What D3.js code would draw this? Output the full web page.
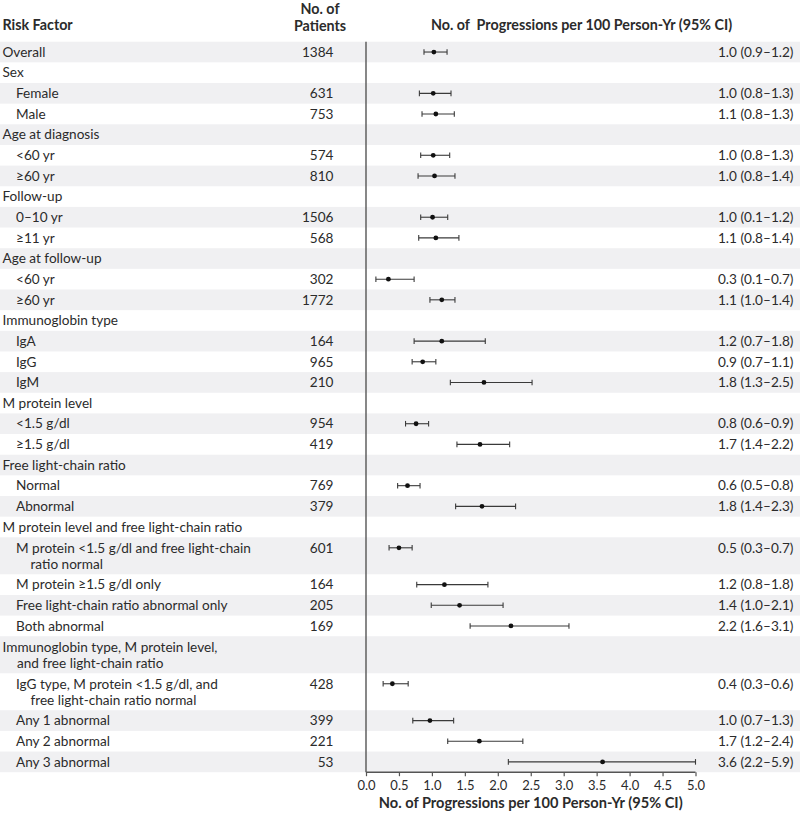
<!DOCTYPE html>
<html>
<head>
<meta charset="utf-8">
<script src="https://cdn.jsdelivr.net/npm/d3@7"></script>
<style>
  html, body { margin: 0; padding: 0; background: #fff; }
  svg { display: block; }
  text { font-family: Lato, "Open Sans", "DejaVu Sans", sans-serif; fill: #2b2b2b; }
</style>
</head>
<body>
<svg id="chart" width="800" height="820"></svg>
<script>
// ---- data ----
const labels = [
  ["Overall"],
  ["Sex"],
  ["Female"],
  ["Male"],
  ["Age at diagnosis"],
  ["<60 yr"],
  ["≥60 yr"],
  ["Follow-up"],
  ["0–10 yr"],
  ["≥11 yr"],
  ["Age at follow-up"],
  ["<60 yr"],
  ["≥60 yr"],
  ["Immunoglobin type"],
  ["IgA"],
  ["IgG"],
  ["IgM"],
  ["M protein level"],
  ["<1.5 g/dl"],
  ["≥1.5 g/dl"],
  ["Free light-chain ratio"],
  ["Normal"],
  ["Abnormal"],
  ["M protein level and free light-chain ratio"],
  ["M protein <1.5 g/dl and free light-chain", "ratio normal"],
  ["M protein ≥1.5 g/dl only"],
  ["Free light-chain ratio abnormal only"],
  ["Both abnormal"],
  ["Immunoglobin type, M protein level,", "and free light-chain ratio"],
  ["IgG type, M protein <1.5 g/dl, and", "free light-chain ratio normal"],
  ["Any 1 abnormal"],
  ["Any 2 abnormal"],
  ["Any 3 abnormal"]
];
const levels = [0,0,1,1,0,1,1,0,1,1,0,1,1,0,1,1,1,0,1,1,0,1,1,0,1,1,1,1,0,1,1,1,1];
const patients = [1384,null,631,753,null,574,810,null,1506,568,null,302,1772,null,164,965,210,null,954,419,null,769,379,null,601,164,205,169,null,428,399,221,53];
const estimate = [1.03,null,1.02,1.06,null,1.02,1.04,null,1.01,1.06,null,0.34,1.15,null,1.15,0.86,1.79,null,0.76,1.73,null,0.63,1.76,null,0.50,1.19,1.42,2.20,null,0.40,0.97,1.72,3.59];
const lower    = [0.88,null,0.81,0.85,null,0.83,0.79,null,0.83,0.80,null,0.15,0.97,null,0.73,0.70,1.28,null,0.60,1.38,null,0.48,1.36,null,0.35,0.77,0.99,1.58,null,0.26,0.71,1.24,2.16];
const upper    = [1.23,null,1.29,1.34,null,1.27,1.35,null,1.24,1.41,null,0.73,1.35,null,1.81,1.06,2.52,null,0.95,2.18,null,0.82,2.27,null,0.70,1.85,2.08,3.08,null,0.64,1.33,2.38,5.9];
const ciText = ["1.0 (0.9–1.2)",null,"1.0 (0.8–1.3)","1.1 (0.8–1.3)",null,"1.0 (0.8–1.3)","1.0 (0.8–1.4)",null,"1.0 (0.1–1.2)","1.1 (0.8–1.4)",null,"0.3 (0.1–0.7)","1.1 (1.0–1.4)",null,"1.2 (0.7–1.8)","0.9 (0.7–1.1)","1.8 (1.3–2.5)",null,"0.8 (0.6–0.9)","1.7 (1.4–2.2)",null,"0.6 (0.5–0.8)","1.8 (1.4–2.3)",null,"0.5 (0.3–0.7)","1.2 (0.8–1.8)","1.4 (1.0–2.1)","2.2 (1.6–3.1)",null,"0.4 (0.3–0.6)","1.0 (0.7–1.3)","1.7 (1.2–2.4)","3.6 (2.2–5.9)"];
const xTicks = [0,0.5,1,1.5,2,2.5,3,3.5,4,4.5,5];
const headerRisk = "Risk Factor";
const headerPatients = ["No. of", "Patients"];
const headerRate = "No. of  Progressions per 100 Person-Yr (95% CI)";
const axisTitle = "No. of Progressions per 100 Person-Yr (95% CI)";

// ---- layout ----
const svg = d3.select("#chart");
const top0 = 41.7, singleH = 20.65, doubleH = 37, lineGap = 16;
const rows = labels.map((l, i) => ({
  i, lines: l, level: levels[i], n: patients[i], est: estimate[i], lo: lower[i], hi: upper[i], ci: ciText[i],
  h: l.length > 1 ? doubleH : singleH
}));
let acc = top0;
rows.forEach(r => { r.y0 = acc; acc += r.h; r.cy = r.y0 + (r.lines.length > 1 ? 10.5 : r.h / 2); });
const bottom = acc;

const x = d3.scaleLinear().domain([0, 5]).range([366, 695.5]).clamp(true);

// stripes
svg.append("g").selectAll("rect").data(rows.filter(r => r.i % 2 === 0)).join("rect")
  .attr("x", 0).attr("y", d => d.y0).attr("width", 800).attr("height", d => d.h)
  .attr("fill", "#f0f0f2");

// headers
const fs = 13.6, hfs = 14.3;
svg.append("text").attr("x", 2.5).attr("y", 30).attr("font-size", hfs).attr("font-weight", "bold").text(headerRisk);
svg.append("g").selectAll("text").data(headerPatients).join("text")
  .attr("x", 320).attr("y", (d, i) => 13.5 + i * 17).attr("text-anchor", "middle")
  .attr("font-size", hfs).attr("font-weight", "bold").text(d => d);
svg.append("text").attr("x", 581.5).attr("y", 30).attr("text-anchor", "middle")
  .attr("font-size", hfs).attr("font-weight", "bold").attr("xml:space", "preserve")
  .style("white-space", "pre").text(headerRate);

// row labels
const lab = svg.append("g");
rows.forEach(r => {
  r.lines.forEach((t, k) => {
    lab.append("text")
      .attr("x", (r.level ? 16 : 2.5) + (k > 0 ? 14.5 : 0))
      .attr("y", r.cy + k * lineGap)
      .attr("dy", "0.35em").attr("font-size", fs).text(t);
  });
  if (r.n != null) {
    lab.append("text").attr("x", 333.5).attr("y", r.cy).attr("dy", "0.35em")
      .attr("text-anchor", "end").attr("font-size", fs).text(r.n);
  }
  if (r.ci != null) {
    lab.append("text").attr("x", 793.5).attr("y", r.cy).attr("dy", "0.35em")
      .attr("text-anchor", "end").attr("font-size", fs).text(r.ci);
  }
});

// axes
svg.append("line").attr("x1", x(0)).attr("x2", x(0)).attr("y1", top0).attr("y2", bottom)
  .attr("stroke", "#555").attr("stroke-width", 1.4);
const axis = d3.axisBottom(x).tickValues(xTicks).tickFormat(d3.format(".1f")).tickSize(4).tickPadding(5);
const ag = svg.append("g").attr("transform", `translate(0,${bottom})`).call(axis);
ag.select(".domain").attr("stroke", "#555").attr("stroke-width", 1.4).attr("d", `M${x(0)},0H${x(5)}`);
ag.selectAll(".tick line").attr("stroke", "#555").attr("stroke-width", 1.2);
ag.selectAll(".tick text").attr("font-size", 13).attr("fill", "#2b2b2b")
  .attr("font-family", 'Lato, "Open Sans", sans-serif');
svg.append("text").attr("x", (x(0) + x(5)) / 2).attr("y", 808).attr("text-anchor", "middle")
  .attr("font-size", 14.6).attr("font-weight", "bold").text(axisTitle);

// error bars
const marks = svg.append("g");
const data = rows.filter(r => r.est != null);
marks.selectAll("line.ci").data(data).join("line").attr("class", "ci")
  .attr("x1", d => x(d.lo)).attr("x2", d => x(d.hi)).attr("y1", d => d.cy).attr("y2", d => d.cy)
  .attr("stroke", "#3a3a3a").attr("stroke-width", 1.1);
marks.selectAll("line.capl").data(data).join("line").attr("class", "capl")
  .attr("x1", d => x(d.lo)).attr("x2", d => x(d.lo)).attr("y1", d => d.cy - 2.8).attr("y2", d => d.cy + 2.8)
  .attr("stroke", "#3a3a3a").attr("stroke-width", 1.1);
marks.selectAll("line.caph").data(data).join("line").attr("class", "caph")
  .attr("x1", d => x(d.hi)).attr("x2", d => x(d.hi)).attr("y1", d => d.cy - 2.8).attr("y2", d => d.cy + 2.8)
  .attr("stroke", "#3a3a3a").attr("stroke-width", 1.1);
marks.selectAll("circle").data(data).join("circle")
  .attr("cx", d => x(d.est)).attr("cy", d => d.cy).attr("r", 2.4).attr("fill", "#111");
</script>
</body>
</html>
